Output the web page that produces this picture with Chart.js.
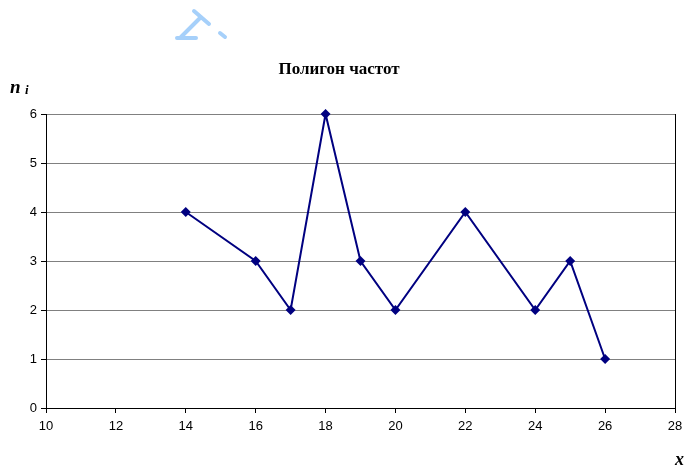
<!DOCTYPE html>
<html>
<head>
<meta charset="utf-8">
<script src="https://cdn.jsdelivr.net/npm/chart.js@4"></script>
<style>
  html, body { margin: 0; padding: 0; background: #fff; }
  #wrap { width: 684px; height: 469px; }
</style>
</head>
<body>
<div id="wrap"><canvas id="poly"></canvas></div>
<script>
// варианты x_i и частоты n_i
const xValues = [14, 16, 17, 18, 19, 20, 22, 24, 25, 26];
const nValues = [4, 3, 2, 6, 3, 2, 4, 2, 3, 1];
const xTicks = [10, 12, 14, 16, 18, 20, 22, 24, 26, 28];
const yTicks = [0, 1, 2, 3, 4, 5, 6];

const points = xValues.map((x, i) => ({ x: x, y: nValues[i] }));

const serif = '"Liberation Serif", "Times New Roman", serif';

// подписи, рамка и голубой значок сверху
const decor = {
    id: 'decor',
    afterDraw(chart) {
        const ctx = chart.ctx;
        const area = chart.chartArea;
        ctx.save();

        // правая граница области
        ctx.strokeStyle = '#000';
        ctx.lineWidth = 1;
        ctx.beginPath();
        ctx.moveTo(Math.round(area.right) + 0.5, area.top);
        ctx.lineTo(Math.round(area.right) + 0.5, area.bottom);
        ctx.stroke();

        // значок
        ctx.strokeStyle = '#a6d0fa';
        ctx.lineWidth = 4;
        ctx.lineCap = 'round';
        ctx.beginPath();
        ctx.moveTo(194, 11); ctx.lineTo(209, 24);
        ctx.moveTo(201, 17); ctx.lineTo(181, 37);
        ctx.moveTo(177, 38); ctx.lineTo(196, 38);
        ctx.moveTo(220, 33); ctx.lineTo(225, 37);
        ctx.stroke();

        ctx.fillStyle = '#000';
        ctx.textBaseline = 'alphabetic';

        // заголовок
        ctx.font = 'bold 17px ' + serif;
        ctx.textAlign = 'center';
        ctx.fillText('Полигон частот', 339, 74);

        // n_i
        ctx.textAlign = 'left';
        ctx.font = 'bold italic 19px ' + serif;
        ctx.fillText('n', 10, 93);
        ctx.font = 'bold italic 13px ' + serif;
        ctx.fillText('i', 25, 94);

        // x_i
        ctx.font = 'bold italic 18px ' + serif;
        ctx.fillText('x', 675, 465);
        ctx.font = 'bold italic 13px ' + serif;
        ctx.fillText('i', 685, 467);

        ctx.restore();
    }
};

const tickFont = { family: '"Liberation Sans", Arial, sans-serif', size: 13 };

new Chart(document.getElementById('poly'), {
    type: 'line',
    data: {
        datasets: [{
            data: points,
            borderColor: '#000080',
            backgroundColor: '#000080',
            borderWidth: 2,
            pointStyle: 'rectRot',
            pointRadius: 5,
            pointBorderWidth: 0,
            tension: 0,
            clip: false
        }]
    },
    options: {
        responsive: true,
        maintainAspectRatio: false,
        animation: false,
        layout: { padding: { left: 0, right: 9, top: 114, bottom: 0 } },
        plugins: {
            legend: { display: false },
            tooltip: { enabled: false }
        },
        scales: {
            x: {
                type: 'linear',
                min: 10,
                max: 28,
                afterBuildTicks: (scale) => { scale.ticks = xTicks.map(v => ({ value: v })); },
                afterFit: (scale) => {
                    scale.height = 61;
                    scale.paddingLeft = 0;
                    scale.paddingRight = 0;
                },
                ticks: { color: '#000', font: tickFont, padding: 6, maxRotation: 0 },
                grid: { drawOnChartArea: false, tickLength: 5, tickColor: '#000' },
                border: { color: '#000', width: 1 }
            },
            y: {
                min: 0,
                max: 6,
                afterBuildTicks: (scale) => { scale.ticks = yTicks.map(v => ({ value: v })); },
                afterFit: (scale) => { scale.width = 46; },
                ticks: { color: '#000', font: tickFont, padding: 4 },
                grid: { color: '#808080', lineWidth: 1, tickLength: 5, tickColor: '#000' },
                border: { color: '#000', width: 1 }
            }
        }
    },
    plugins: [decor]
});
</script>
</body>
</html>
